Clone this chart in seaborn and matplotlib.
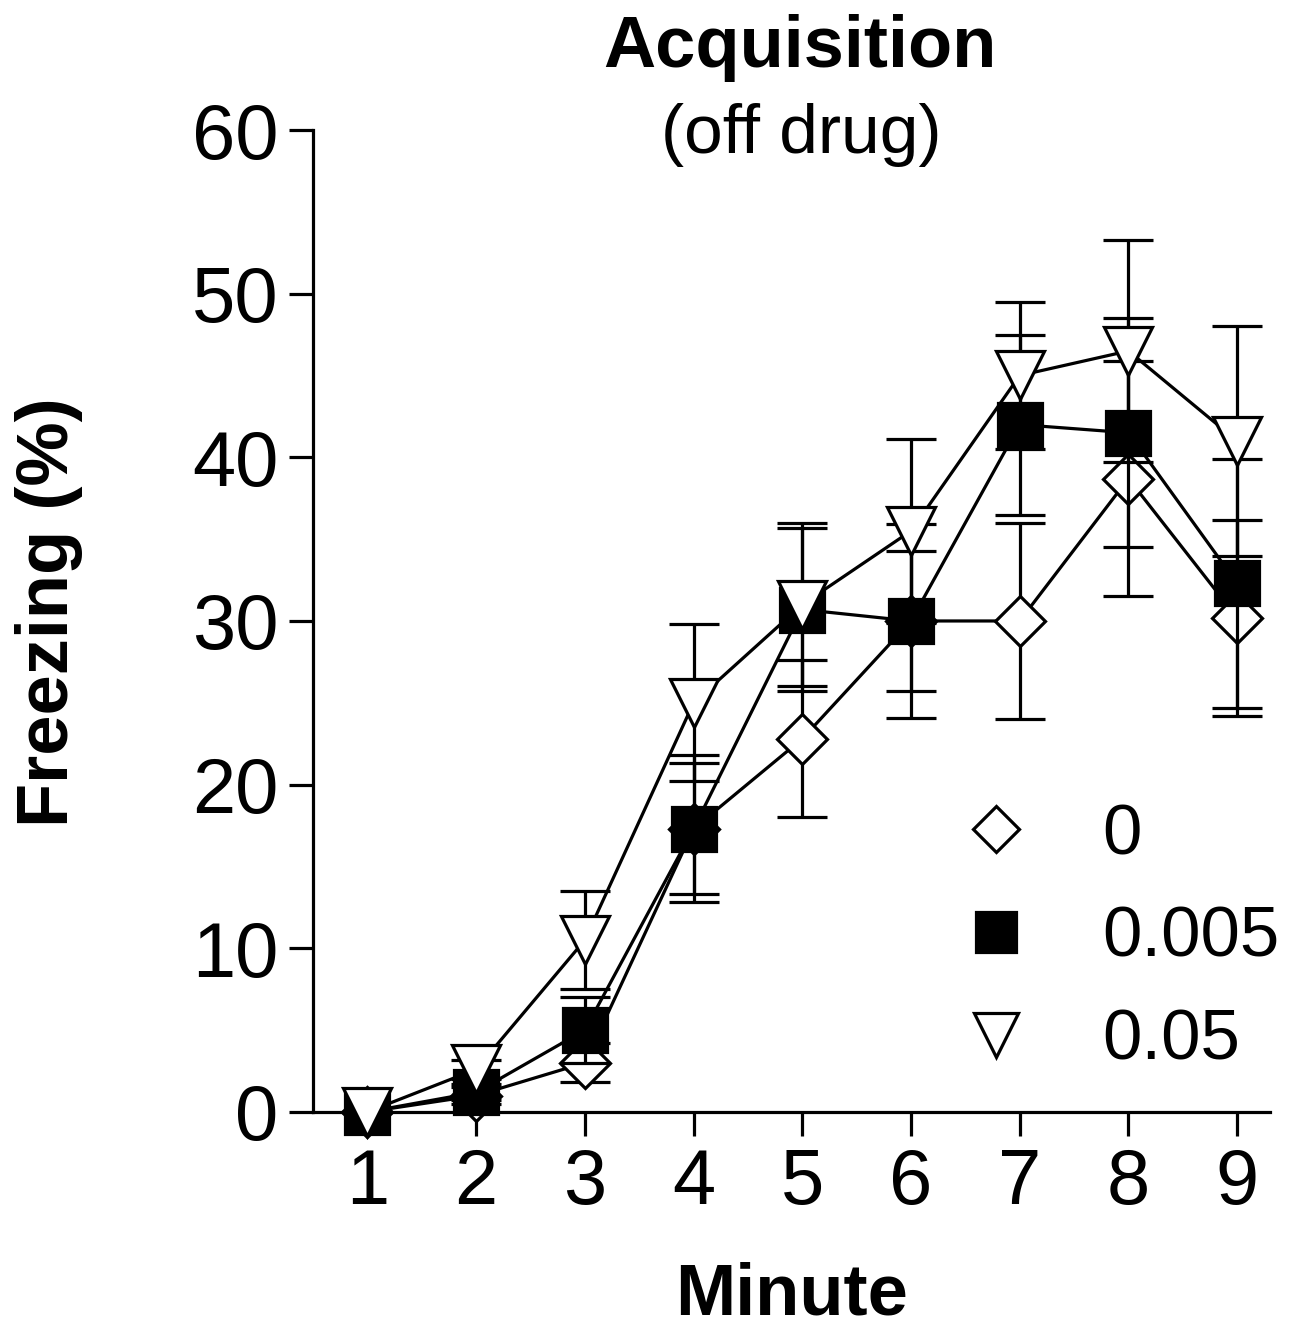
import numpy as np
import pandas as pd
import matplotlib
matplotlib.use("Agg")
import matplotlib.pyplot as plt
import seaborn as sns
from matplotlib.lines import Line2D

minutes = [1, 2, 3, 4, 5, 6, 7, 8, 9]
dose_labels = ["0", "0.005", "0.05"]

mean_0 = [0, 1.0, 3.0, 17.3, 22.8, 30.0, 30.0, 38.7, 30.2]
sem_0 = [0, 0.5, 1.2, 4.5, 4.8, 5.9, 6.0, 7.2, 6.0]

mean_005 = [0, 1.2, 5.0, 17.3, 30.7, 30.0, 42.0, 41.5, 32.3]
sem_005 = [0, 0.5, 2.0, 4.0, 5.0, 4.3, 5.5, 7.0, 7.6]

mean_05 = [0, 2.6, 10.5, 25.0, 31.0, 35.5, 45.0, 46.5, 41.0]
sem_05 = [0, 0.6, 3.0, 4.8, 5.0, 5.6, 4.5, 6.8, 7.0]

sns.set_theme(style="ticks")
plt.rcParams["font.family"] = ["Liberation Sans", "DejaVu Sans"]
plt.rcParams.update({"text.color": "black", "axes.labelcolor": "black",
                     "xtick.color": "black", "ytick.color": "black"})

fig = plt.figure(figsize=(13.07, 13.28), dpi=100)
ax = fig.add_axes([0.2395, 0.1627, 0.732, 0.7394])

series = [
    (mean_0, sem_0, "D", "white", 25, 2),
    (mean_005, sem_005, "s", "black", 31, 3),
    (mean_05, sem_05, "v", "white", 34, 4),
]

lw = 2.3
for (m, s, mk, fc, ms, z) in series:
    ax.errorbar(minutes, m, yerr=s, fmt="none", ecolor="black",
                elinewidth=lw, capsize=18, capthick=lw, zorder=z, clip_on=False)
    df = pd.DataFrame({"Minute": minutes, "Freezing": m})
    sns.lineplot(data=df, x="Minute", y="Freezing", ax=ax, color="black",
                 linewidth=lw, marker=mk, markersize=ms, markerfacecolor=fc,
                 markeredgecolor="black", markeredgewidth=lw, zorder=z + 0.5,
                 clip_on=False)

ax.set_xlim(0.5, 9.3)
ax.set_ylim(0, 60)
ax.set_xticks(minutes)
ax.set_yticks([0, 10, 20, 30, 40, 50, 60])
ax.tick_params(axis="both", labelsize=56, width=lw, length=17, pad=8, color="black")
for sp in ["top", "right"]:
    ax.spines[sp].set_visible(False)
for sp in ["left", "bottom"]:
    ax.spines[sp].set_linewidth(lw)
    ax.spines[sp].set_color("black")

ax.set_xlabel("Minute", fontsize=52, fontweight="bold")
ax.xaxis.set_label_coords(0.5, -0.152)
ax.set_ylabel("Freezing (%)", fontsize=52, fontweight="bold")
ax.yaxis.set_label_coords(-0.240, 0.509)

fig.text(0.612, 0.964, "Acquisition", ha="center", va="center",
         fontsize=52, fontweight="bold")
fig.text(0.613, 0.898, "(off drug)", ha="center", va="center", fontsize=50)

handles = []
for (m, s, mk, fc, ms, z) in series:
    handles.append(Line2D([], [], linestyle="none", marker=mk,
                          markersize=ms * 0.95, markerfacecolor=fc,
                          markeredgecolor="black", markeredgewidth=lw))
ax.legend(handles, dose_labels, loc="lower left", bbox_to_anchor=(0.61, -0.027),
          frameon=False, fontsize=51, handlelength=1.0, handletextpad=1.0,
          labelspacing=0.52)

fig.savefig("out.png", dpi=100, facecolor="white")
